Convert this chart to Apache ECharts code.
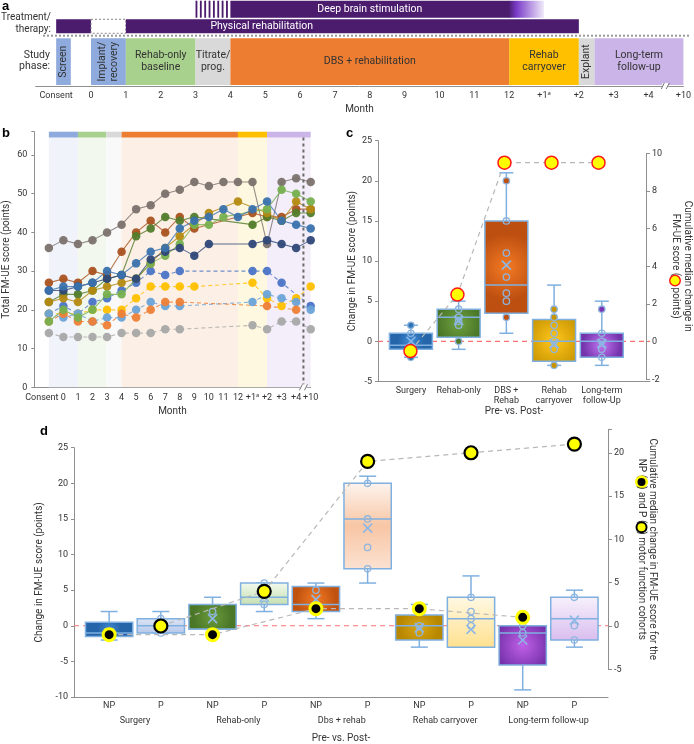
<!DOCTYPE html>
<html>
<head>
<meta charset="utf-8">
<script src="https://cdn.jsdelivr.net/npm/echarts@6/dist/echarts.min.js"></script>
<style>
html,body{margin:0;padding:0;background:#fff;}
#chart{width:694px;height:744px;}
</style>
</head>
<body>
<div id="chart"></div>
<script>
/* ================= DATA ================= */
/* Panel a: study timeline (x = month index: Consent=0 ... +10=18) */
const aMonthLabels = ['Consent','0','1','2','3','4','5','6','7','8','9','10','11','12','+1ᵃ','+2','+3','+4','+10'];
const phaseNames = ['Screen','Implant/\nrecovery','Rehab-only\nbaseline','Titrate/\nprog.','DBS + rehabilitation','Rehab\ncarryover','Explant','Long-term\nfollow-up'];
const phaseStart = [0, 1, 2, 4, 5, 13, 15, 15.45];
const phaseEnd   = [0.42, 2, 4, 5, 13, 15, 15.45, 18];
const therapyNames = ['Deep brain stimulation', 'Physical rehabilitation'];
const dbsSpan   = [4, 5, 13, 14];   // titration start, continuous start, taper start, end
const rehabSpan = [0, 1, 2, 15];    // start, pause start, pause end, end
const aAxisBreak = 17.48;

/* Panel b: total FM-UE score per participant */
const bMonthLabels = ['Consent','0','1','2','3','4','5','6','7','8','9','10','11','12','+1ᵃ','+2','+3','+4','+10'];
const bPhaseStart = [0, 2, 3.95, 5, 13, 15];
const bPhaseEnd   = [2, 3.95, 5, 13, 15, 18];
const bP1  = [36,38,37,38,40,42,46,47,50,51,53,52,53,53,53,37,53,54,53];
const bP2  = [27,28,27,30,29,35,40,43,40,44,41,null,null,null,45,44,44,46,46];
const bP3  = [22,24,24,25,28,29,39,41,44,43,44,null,null,null,42,44,43,45,45];
const bP4  = [22,23,22,25,26,27,28,32,36,39,42,45,null,48,null,45,43,48,46];
const bP5  = [17,20,18,20,24,24,28,32,34,37,42,42,44,null,null,46,51,50,48];
const bP6  = [25,25,26,27,28,29,28,33,35,36,34,37,null,null,37,38,37,36,38];
const bP7  = [25,26,26,27,30,29,32,35,36,41,43,44,46,44,46,48,43,42,41];
const bP8  = [19,21,19,22,23,25,27,30,29,30,null,null,null,null,30,30,27,null,21];
const bP9  = [19,19,19,20,20,20,23,26,26,26,26,null,null,null,27,23,21,23,26];
const bP10 = [19,18,19,17,18,18,20,22,21,21,null,null,null,null,22,24,23,22,20];
const bP11 = [17,19,17,17,16,19,18,20,22,22,null,null,null,null,null,21,null,20,null];
const bP12 = [14,13,13,13,13,14,14,14,15,15,null,null,null,null,16,15,17,17,15];
const bAxisBreak = 17.5;

/* Panel c: change in FM-UE per phase */
const cCats  = ['Surgery','Rehab-only','DBS +\nRehab','Rehab\ncarryover','Long-term\nfollow-Up'];
const cMin   = [-2, -1, 1, -3, -3];
const cQ1    = [-1, 0.5, 3.5, -2.5, -2];
const cMed   = [-0.5, 3, 7, 0, 0];
const cQ3    = [1, 4, 15, 2.7, 1];
const cMax   = [2, 5, 21, 7, 5];
const cMean  = [0, 2.6, 9.5, -0.3, -0.3];
const cPoints = [[2,1,-2],[4,3,2.5,2,0],[20,15,11,8,6,5,3],[4,3,2,1,0,-1,-3],[4,1,0,-1,-2]];
const cCum   = [-0.5, 2.5, 9.5, 9.5, 9.5];

/* Panel d: NP vs P cohorts */
const dLabels = ['NP','P','NP','P','NP','P','NP','P','NP','P'];
const dGroups = ['Surgery','Rehab-only','Dbs + rehab','Rehab carryover','Long-term follow-up'];
const dMin   = [-2, -1, -0.5, 2, 1, 6, -3, -3, -9, -3];
const dQ1    = [-1.5, -1, -0.5, 3, 2, 8, -2, -3, -5.5, -2];
const dMed   = [-1, 0, -0.5, 4, 3, 15, 0, 1, -1, 1];
const dQ3    = [0.5, 1, 3, 6, 5.5, 20, 1.5, 4, 0, 4];
const dMax   = [2, 2, 4, 6, 6, 21, 3, 7, 0, 5];
const dMean  = [-1, 0, 1, 4, 3.7, 13.7, -0.3, -0.5, -2, 0.8];
const dPoints = [[],[1,0,-1],[2],[6,3],[5],[20,15,11,8],[0,-1],[4,2,1,0],[0,-1],[4,0,-2]];
const dCumNP = [-1, -1, 2, 2, 1];
const dCumP  = [0, 4, 19, 20, 21];

/* ================= STYLE ================= */
const FONT = 'Roboto, "Noto Sans", "DejaVu Sans", sans-serif';
const TXT = '#333';
const AXC = '#8f8f8f';
const PURPLE = '#4b1c6e';
const A_ROWS = {dbs:[0.7,17.7], rehab:[19.3,33.3], phase:[38.3,85], axis:86};
const PHASE_COLORS = ['#8faadc','#8faadc','#a9d18e','#d9d9d9','#ed7d31','#ffc000','#d9d9d9','#cbb4e8'];
const PHASE_VERTICAL = [true,true,false,false,false,false,true,false];
const B_BAND_COLORS = ['#8faadc','#a9d18e','#d9d9d9','#ed7d31','#ffc000','#cbb4e8'];
const B_SHADE_COLORS = ['#f1f3fa','#f3f8ee','#f9f9f9','#fcf0e6','#fff8e0','#f3eefa'];
const B_YMAX = 66, B_BAND = [64.5, 66];
const bSeriesData = [bP1,bP2,bP3,bP4,bP5,bP6,bP7,bP8,bP9,bP10,bP11,bP12];
const B_COLORS = ['#7b716d','#a9521f','#527c2b','#b48a12','#77b04e','#2f4778','#3a72ad','#4a74c6','#ffc000','#6aa3d8','#ee7f36','#a8a8a8'];
const B_DASHED = [false,false,false,false,false,false,false,true,true,true,true,true];

const BORDER = '#7fb0e0';
function radial(c0, c1){ return {type:'radial', x:0.5, y:0.5, r:0.75, colorStops:[{offset:0,color:c0},{offset:1,color:c1}]}; }
function vlin(stops){ return {type:'linear', x:0, y:0, x2:0, y2:1, colorStops:stops.map((c,i)=>({offset:i/(stops.length-1), color:c}))}; }
const C_FILLS = [radial('#418fd8','#2566ab'), radial('#6fa23f','#4a7628'), radial('#f37a24','#bd4f10'), radial('#ffc61a','#c29000'), radial('#c276f0','#7433ab')];
const C_POINT_FILLS = ['#2e75b6','#4e7a2a','#c0500f','#c89400','#7a35b5'];
const D_FILLS = [
  radial('#3f88d2','#2465aa'), vlin(['#dde6f6','#b5c7ea']),
  radial('#6a9c3a','#4a7628'), vlin(['#f4faef','#c4dfb0']),
  radial('#f37a24','#c0520f'), vlin(['#fdf4ee','#f8c6a5','#fbe2d2']),
  radial('#d8a514','#b88700'), vlin(['#fff8e4','#ffe08e']),
  radial('#c060e8','#6d2ca2'), vlin(['#f7f1fc','#d9bdee'])
];
const D_POINT_FILLS = ['#2e75b6','#b5c7ea','#4e7a2a','#c4dfb0','#c0500f','#f8c6a5','#c89400','#ffe08e','#7a35b5','#d9bdee'];

/* ================= RENDERERS ================= */
function renderPhase(params, api){
  const s = api.value(0), e = api.value(1), i = api.value(2);
  const p0 = api.coord([s, A_ROWS.phase[0]]), p1 = api.coord([e, A_ROWS.phase[1]]);
  const cx = (p0[0]+p1[0])/2, cy = (p0[1]+p1[1])/2;
  return {type:'group', children:[
    {type:'rect', shape:{x:p0[0], y:p0[1], width:p1[0]-p0[0], height:p1[1]-p0[1]}, style:{fill:PHASE_COLORS[i]}},
    {type:'text', x:cx, y:cy, rotation: PHASE_VERTICAL[i] ? Math.PI/2 : 0,
     style:{text:phaseNames[i], x:0, y:0, align:'center', verticalAlign:'middle', fill:'#333',
            fontSize:10.5, fontFamily:FONT, lineHeight:12}}
  ]};
}

function renderTherapy(params, api){
  const ch = [];
  const X = v => api.coord([v, 0])[0];
  const Y = v => api.coord([0, v])[1];
  const y0 = Y(A_ROWS.dbs[0]), y1 = Y(A_ROWS.dbs[1]);
  const sx0 = X(dbsSpan[0]), sx1 = X(dbsSpan[1]);
  const nStripes = 8, step = (sx1 - sx0)/nStripes;
  for (let k = 0; k < nStripes; k++) {
    ch.push({type:'rect', shape:{x:sx0 + k*step, y:y0, width:step*0.42, height:y1-y0}, style:{fill:PURPLE}});
  }
  ch.push({type:'rect', shape:{x:sx1, y:y0, width:X(dbsSpan[2])-sx1, height:y1-y0}, style:{fill:PURPLE}});
  ch.push({type:'rect', shape:{x:X(dbsSpan[2])-0.5, y:y0, width:X(dbsSpan[3])-X(dbsSpan[2])+0.5, height:y1-y0},
    style:{fill:{type:'linear', x:0, y:0, x2:1, y2:0, colorStops:[{offset:0,color:PURPLE},{offset:0.22,color:'#7a3cc8'},{offset:1,color:'#f1ebfa'}]}}});
  ch.push({type:'text', x:(X(dbsSpan[1])+X(dbsSpan[2]))/2, y:(y0+y1)/2,
    style:{text:therapyNames[0], x:0, y:0, align:'center', verticalAlign:'middle', fill:'#fff', fontSize:10.5, fontFamily:FONT}});
  const r0 = Y(A_ROWS.rehab[0]), r1 = Y(A_ROWS.rehab[1]);
  ch.push({type:'rect', shape:{x:X(rehabSpan[0]), y:r0, width:X(rehabSpan[1])-X(rehabSpan[0]), height:r1-r0}, style:{fill:PURPLE}});
  ch.push({type:'rect', shape:{x:X(rehabSpan[1]), y:r0, width:X(rehabSpan[2])-X(rehabSpan[1]), height:r1-r0},
    style:{fill:'#fff', stroke:'#8a8a8a', lineWidth:1, lineDash:[2,2]}});
  ch.push({type:'rect', shape:{x:X(rehabSpan[2]), y:r0, width:X(rehabSpan[3])-X(rehabSpan[2]), height:r1-r0}, style:{fill:PURPLE}});
  ch.push({type:'text', x:X(5.9), y:(r0+r1)/2,
    style:{text:therapyNames[1], x:0, y:0, align:'center', verticalAlign:'middle', fill:'#fff', fontSize:10.5, fontFamily:FONT}});
  return {type:'group', children:ch};
}

function breakMark(p){
  return [
    {type:'rect', shape:{x:p[0]-3, y:p[1]-3, width:6, height:6}, style:{fill:'#fff'}},
    {type:'line', shape:{x1:p[0]-4, y1:p[1]+3, x2:p[0]-1, y2:p[1]-3}, style:{stroke:'#777', lineWidth:1}},
    {type:'line', shape:{x1:p[0]+1, y1:p[1]+3, x2:p[0]+4, y2:p[1]-3}, style:{stroke:'#777', lineWidth:1}}
  ];
}
function renderBreakA(params, api){
  return {type:'group', children:breakMark(api.coord([api.value(0), A_ROWS.axis]))};
}

function renderBShade(params, api){
  const s = api.value(0), e = api.value(1), i = api.value(2);
  const a = api.coord([s, B_BAND[0]]), b = api.coord([e, 0]);
  const c = api.coord([s, B_BAND[1]]);
  return {type:'group', children:[
    {type:'rect', shape:{x:a[0], y:a[1], width:b[0]-a[0], height:b[1]-a[1]}, style:{fill:B_SHADE_COLORS[i]}},
    {type:'rect', shape:{x:c[0], y:c[1], width:b[0]-a[0], height:a[1]-c[1]}, style:{fill:B_BAND_COLORS[i]}}
  ]};
}

function renderBBreak(params, api){
  const x = api.value(0);
  const t = api.coord([x, B_BAND[0]]), b = api.coord([x, 0]);
  return {type:'group', children:[
    {type:'line', shape:{x1:t[0], y1:t[1], x2:b[0], y2:b[1]}, style:{stroke:'#6a6a6a', lineWidth:2, lineDash:[3,3]}}
  ].concat(breakMark(b))};
}

function makeBoxRenderer(fills, pointFills, points, boxFrac, capPx, hollowAll){
  return function(params, api){
    const i = params.dataIndex;
    const x = api.value(0), mn = api.value(1), q1 = api.value(2), md = api.value(3),
          q3 = api.value(4), mx = api.value(5), mean = api.value(6);
    const unit = api.size([1, 0])[0];
    const w = unit * boxFrac;
    const cx = api.coord([x, 0])[0];
    const Y = v => api.coord([x, v])[1];
    const ch = [];
    if (i === 0) {
      const cs = params.coordSys;
      ch.push({type:'line', shape:{x1:cs.x, y1:Y(0), x2:cs.x+cs.width, y2:Y(0)}, style:{stroke:'#ff6f6f', lineWidth:1.2, lineDash:[5,4]}});
    }
    const ws = {stroke:BORDER, lineWidth:1.5};
    ch.push({type:'line', shape:{x1:cx, y1:Y(mx), x2:cx, y2:Y(q3)}, style:ws});
    ch.push({type:'line', shape:{x1:cx, y1:Y(q1), x2:cx, y2:Y(mn)}, style:ws});
    ch.push({type:'line', shape:{x1:cx-capPx/2, y1:Y(mx), x2:cx+capPx/2, y2:Y(mx)}, style:ws});
    ch.push({type:'line', shape:{x1:cx-capPx/2, y1:Y(mn), x2:cx+capPx/2, y2:Y(mn)}, style:ws});
    ch.push({type:'rect', shape:{x:cx-w/2, y:Y(q3), width:w, height:Y(q1)-Y(q3)}, style:{fill:fills[i], stroke:BORDER, lineWidth:1.5}});
    ch.push({type:'line', shape:{x1:cx-w/2, y1:Y(md), x2:cx+w/2, y2:Y(md)}, style:{stroke:BORDER, lineWidth:1.5}});
    (points[i] || []).forEach(p => {
      const filled = !hollowAll && (p > q3 || p < q1);
      ch.push({type:'circle', shape:{cx:cx, cy:Y(p), r:3.2},
        style:{fill: filled ? pointFills[i] : 'rgba(255,255,255,0)', stroke: '#8fb5de', lineWidth:1.3}});
    });
    const my = Y(mean), h = 4.5;
    ch.push({type:'line', shape:{x1:cx-h, y1:my-h, x2:cx+h, y2:my+h}, style:{stroke:'#8db8e6', lineWidth:1.6}});
    ch.push({type:'line', shape:{x1:cx-h, y1:my+h, x2:cx+h, y2:my-h}, style:{stroke:'#8db8e6', lineWidth:1.6}});
    return {type:'group', children:ch};
  };
}

/* ================= OPTION ================= */
const axisLineStyle = {show:true, onZero:false, lineStyle:{color:AXC, width:1}};
const labelStyle = {color:TXT, fontSize:9, fontFamily:FONT};
const nameStyle = {color:TXT, fontSize:10, fontFamily:FONT};
const idx = n => Array.from({length:n}, (_, k) => k);
const consentFmt = l => l === 'Consent' ? '{c|Consent}' : l;
const consentRich = {c:{fontSize:9, color:TXT, fontFamily:FONT, padding:[0,14,0,0]}};

const bSeries = bSeriesData.map((arr, k) => ({
  type:'line', xAxisIndex:1, yAxisIndex:1,
  data: arr.map((v, i) => [i, v]).filter(d => d[1] !== null),
  symbol:'circle', symbolSize:8.5,
  lineStyle:{color:B_COLORS[k], width:1.1, opacity:0.8, type: B_DASHED[k] ? [4,3] : 'solid'},
  itemStyle:{color:B_COLORS[k], opacity:0.95},
  z: B_DASHED[k] ? 3 : 4, silent:true
}));

const option = {
  animation:false,
  textStyle:{fontFamily:FONT},
  grid:[
    {left:35.6, right:5.1, top:0, height:86},
    {left:34.3, width:276.4, top:131.7, height:255.6},
    {left:378, width:272, top:140.7, height:240.7},
    {left:378, width:272, top:153.3, height:226},
    {left:74, width:534, top:447.7, height:249.3},
    {left:74, width:534, top:429.3, height:240}
  ],
  xAxis:[
    {gridIndex:0, type:'value', min:-0.59, max:18, axisLine:axisLineStyle, axisTick:{show:false}, splitLine:{show:false},
     axisLabel:Object.assign({}, labelStyle, {margin:5.5, customValues:idx(19), formatter:v => aMonthLabels[v] ?? ''}),
     name:'Month', nameLocation:'middle', nameGap:18, nameTextStyle:nameStyle},
    {gridIndex:1, type:'value', min:-1, max:18, interval:1, axisLine:axisLineStyle, axisTick:{show:false}, splitLine:{show:false},
     axisLabel:Object.assign({}, labelStyle, {margin:6, rich:consentRich,
       formatter:v => (Number.isInteger(v) && bMonthLabels[v] !== undefined) ? consentFmt(bMonthLabels[v]) : ''}),
     name:'Month', nameLocation:'middle', nameGap:19, nameTextStyle:nameStyle},
    {gridIndex:2, type:'value', min:-0.69, max:5.01, axisLine:axisLineStyle, axisTick:{show:false}, splitLine:{show:false},
     axisLabel:Object.assign({}, labelStyle, {margin:4, lineHeight:10, customValues:idx(5), formatter:v => cCats[v] ?? ''}),
     name:'Pre- vs. Post-', nameLocation:'middle', nameGap:23.5, nameTextStyle:nameStyle},
    {gridIndex:3, type:'value', min:-0.69, max:5.01, show:false},
    {gridIndex:4, type:'value', min:-0.68, max:9.65, axisLine:axisLineStyle, axisTick:{show:false}, splitLine:{show:false},
     axisLabel:Object.assign({}, labelStyle, {margin:4, customValues:idx(10), formatter:v => dLabels[v] ?? ''}),
     name:'Pre- vs. Post-', nameLocation:'middle', nameGap:36, nameTextStyle:nameStyle},
    {gridIndex:5, type:'value', min:-0.68, max:9.65, show:false},
    {gridIndex:4, type:'value', position:'bottom', min:-0.68, max:9.65, axisLine:{show:false, onZero:false}, axisTick:{show:false}, splitLine:{show:false},
     axisLabel:Object.assign({}, labelStyle, {margin:19.5, customValues:[0.5,2.5,4.5,6.5,8.5], formatter:v => dGroups[Math.round((v-0.5)/2)] ?? ''})}
  ],
  yAxis:[
    {gridIndex:0, type:'value', inverse:true, min:0, max:86, show:false},
    {gridIndex:1, type:'value', min:0, max:B_YMAX, interval:10, axisLine:axisLineStyle, axisTick:{show:true, length:3, lineStyle:{color:AXC}}, splitLine:{show:false},
     axisLabel:Object.assign({}, labelStyle, {margin:7, formatter:v => v % 10 === 0 ? String(v) : ''}),
     name:'Total FM-UE score (points)', nameLocation:'middle', nameGap:22.5, nameTextStyle:nameStyle},
    {gridIndex:2, type:'value', min:-5, max:25, interval:5, axisLine:axisLineStyle, axisTick:{show:true, length:3, lineStyle:{color:AXC}}, splitLine:{show:false},
     axisLabel:Object.assign({}, labelStyle, {margin:6}),
     name:'Change in FM-UE score (points)', nameLocation:'middle', nameGap:21, nameTextStyle:nameStyle},
    {gridIndex:3, type:'value', position:'right', min:-2, max:10, interval:2, axisLine:axisLineStyle, axisTick:{show:true, length:4, lineStyle:{color:AXC}}, splitLine:{show:false},
     axisLabel:Object.assign({}, labelStyle, {margin:6}),
     name:'Cumulative median change in\nFM-UE score ({dot| } points)', nameLocation:'middle', nameRotate:-90, nameGap:23,
     nameTextStyle:Object.assign({}, nameStyle, {lineHeight:12, rich:{dot:{width:9, height:9, borderRadius:5, backgroundColor:'#ffff00', borderColor:'#ff1a1a', borderWidth:1.5}}})},
    {gridIndex:4, type:'value', min:-10, max:25, interval:5, axisLine:axisLineStyle, axisTick:{show:true, length:3, lineStyle:{color:AXC}}, splitLine:{show:false},
     axisLabel:Object.assign({}, labelStyle, {margin:6}),
     name:'Change in FM-UE score (points)', nameLocation:'middle', nameGap:24, nameTextStyle:nameStyle},
    {gridIndex:5, type:'value', position:'right', min:-5, max:22.71, interval:5, axisLine:axisLineStyle, axisTick:{show:true, length:4, lineStyle:{color:AXC}}, splitLine:{show:false},
     axisLabel:Object.assign({}, labelStyle, {margin:6, formatter:v => v % 5 === 0 ? String(v) : ''}),
     name:'Cumulative median change in FM-UE score for the\nNP ({np| }) and P ({p| }) motor function cohorts', nameLocation:'middle', nameRotate:-90, nameGap:24,
     nameTextStyle:Object.assign({}, nameStyle, {lineHeight:11, rich:{
       np:{width:8, height:8, borderRadius:6, backgroundColor:'#000', borderColor:'#ffff00', borderWidth:2.5},
       p:{width:8, height:8, borderRadius:6, backgroundColor:'#ffff00', borderColor:'#000', borderWidth:2}}})}
  ],
  series:[
    {type:'custom', xAxisIndex:0, yAxisIndex:0, renderItem:renderPhase, silent:true,
     data: phaseStart.map((s, i) => [s, phaseEnd[i], i]), encode:{x:[0,1]}},
    {type:'custom', xAxisIndex:0, yAxisIndex:0, renderItem:renderTherapy, silent:true, data:[[dbsSpan[0]]], encode:{x:0}},
    {type:'custom', xAxisIndex:0, yAxisIndex:0, renderItem:renderBreakA, silent:true, data:[[aAxisBreak]], encode:{x:0}, z:5},
    {type:'custom', xAxisIndex:1, yAxisIndex:1, renderItem:renderBShade, silent:true, z:1,
     data: bPhaseStart.map((s, i) => [s, bPhaseEnd[i], i]), encode:{x:[0,1]}},
    {type:'custom', xAxisIndex:1, yAxisIndex:1, renderItem:renderBBreak, silent:true, z:6, data:[[bAxisBreak]], encode:{x:0}},
    ...bSeries,
    {type:'custom', xAxisIndex:2, yAxisIndex:2, silent:true, z:2,
     renderItem: makeBoxRenderer(C_FILLS, C_POINT_FILLS, cPoints, 0.9, 14, false),
     data: cCats.map((_, i) => [i, cMin[i], cQ1[i], cMed[i], cQ3[i], cMax[i], cMean[i]]), encode:{x:0, y:[1,2,3,4,5]}},
    {type:'line', xAxisIndex:3, yAxisIndex:3, silent:true, z:10,
     data: cCum.map((v, i) => [i, v]), symbol:'circle', symbolSize:13,
     itemStyle:{color:'#ffff00', borderColor:'#ff1a1a', borderWidth:1.5},
     lineStyle:{color:'#b8b8b8', width:1.2, type:[5,4]}},
    {type:'custom', xAxisIndex:4, yAxisIndex:4, silent:true, z:2,
     renderItem: makeBoxRenderer(D_FILLS, D_POINT_FILLS, dPoints, 0.915, 17, true),
     data: dLabels.map((_, i) => [i, dMin[i], dQ1[i], dMed[i], dQ3[i], dMax[i], dMean[i]]), encode:{x:0, y:[1,2,3,4,5]}},
    {type:'line', xAxisIndex:5, yAxisIndex:5, silent:true, z:10,
     data: dCumNP.map((v, i) => [2*i, v]), symbol:'circle', symbolSize:12,
     itemStyle:{color:'#000', borderColor:'#ffff00', borderWidth:3},
     lineStyle:{color:'#b8b8b8', width:1.2, type:[5,4]}},
    {type:'line', xAxisIndex:5, yAxisIndex:5, silent:true, z:10,
     data: dCumP.map((v, i) => [2*i+1, v]), symbol:'circle', symbolSize:13,
     itemStyle:{color:'#ffff00', borderColor:'#000', borderWidth:2.2},
     lineStyle:{color:'#b8b8b8', width:1.2, type:[5,4]}}
  ],
  graphic:[
    {type:'text', left:2, top:0, style:{text:'a', fill:'#000', font:'bold 13px "Liberation Sans", Arial, sans-serif'}},
    {type:'text', left:2, top:127, style:{text:'b', fill:'#000', font:'bold 13px "Liberation Sans", Arial, sans-serif'}},
    {type:'text', left:346, top:127, style:{text:'c', fill:'#000', font:'bold 13px "Liberation Sans", Arial, sans-serif'}},
    {type:'text', left:40, top:425, style:{text:'d', fill:'#000', font:'bold 13px "Liberation Sans", Arial, sans-serif'}},
    {type:'text', right:643, top:12, style:{text:'Treatment/', fill:TXT, font:'10px ' + FONT}},
    {type:'text', right:643, top:24, style:{text:'therapy:', fill:TXT, font:'10px ' + FONT}},
    {type:'text', right:644, top:50, style:{text:'Study', fill:TXT, font:'10.5px ' + FONT}},
    {type:'text', right:644, top:61, style:{text:'phase:', fill:TXT, font:'10.5px ' + FONT}},
    {type:'line', shape:{x1:43, y1:35.7, x2:690, y2:35.7}, style:{stroke:'#9a9a9a', lineWidth:2, lineDash:[2,2]}}
  ]
};

const chart = echarts.init(document.getElementById('chart'), null, {renderer:'canvas'});
chart.setOption(option);
</script>
</body>
</html>
